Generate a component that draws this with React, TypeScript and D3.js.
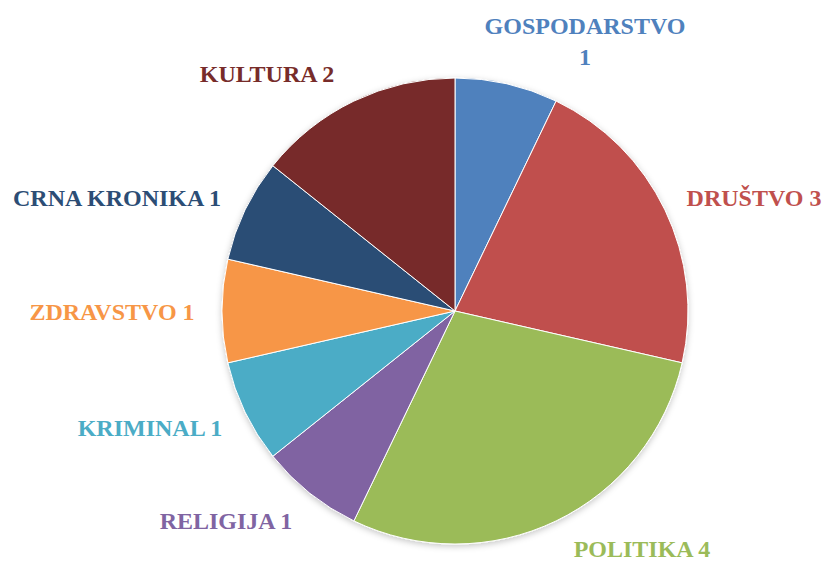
import React from "react";
import * as d3 from "d3";

const categories = ["GOSPODARSTVO", "DRUŠTVO", "POLITIKA", "RELIGIJA", "KRIMINAL", "ZDRAVSTVO", "CRNA KRONIKA", "KULTURA"];
const values = [1, 3, 4, 1, 1, 1, 1, 2];
const colors = ["#4F81BD", "#C0504D", "#9BBB59", "#8064A2", "#4BACC6", "#F79646", "#2C4D75", "#772C2A"];

// label anchor points (centre x, baseline y) as Excel placed them
const labelPos: [number, number][] = [
  [585, 34],
  [754, 206],
  [642, 557],
  [226, 529],
  [150, 436],
  [112, 320],
  [117, 206],
  [267, 82],
];

const W = 829;
const H = 563;
const cx = 455;
const cy = 311;
const R = 233;

export default function App() {
  const pie = d3.pie<number>().value((d) => d).sort(null);
  const arcs = pie(values);
  const arc = d3.arc<d3.PieArcDatum<number>>().innerRadius(0).outerRadius(R);

  return (
    <svg width={W} height={H} style={{ position: "absolute", left: 0, top: 0 }}>
      <defs>
        <filter id="sh" x="-10%" y="-10%" width="120%" height="120%">
          <feDropShadow dx="0" dy="2" stdDeviation="3" floodColor="#000" floodOpacity="0.22" />
        </filter>
      </defs>
      <g transform={`translate(${cx},${cy})`} filter="url(#sh)">
        {arcs.map((a, i) => (
          <path key={i} d={arc(a) || ""} fill={colors[i]} stroke="#fff" strokeWidth={1} />
        ))}
      </g>
      <g fontFamily="'Liberation Serif', serif" fontWeight="bold" fontSize={24} textAnchor="middle">
        {categories.map((c, i) => {
          const [x, y] = labelPos[i];
          if (c === "GOSPODARSTVO") {
            return (
              <text key={c} x={x} y={y} fill={colors[i]}>
                <tspan x={x}>{c}</tspan>
                <tspan x={x} dy={31}>{values[i]}</tspan>
              </text>
            );
          }
          return (
            <text key={c} x={x} y={y} fill={colors[i]}>
              {`${c} ${values[i]}`}
            </text>
          );
        })}
      </g>
    </svg>
  );
}
